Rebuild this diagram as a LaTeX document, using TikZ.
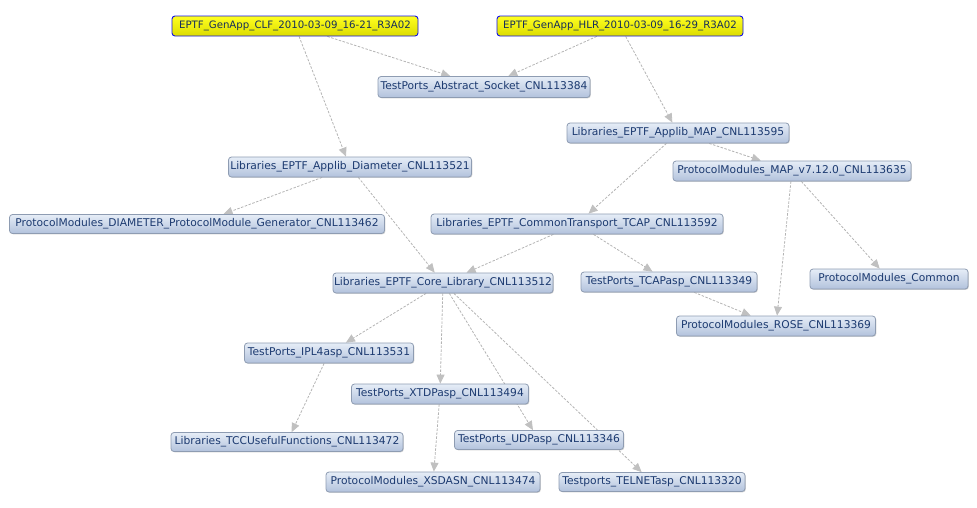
\documentclass[tikz,border=0pt]{standalone}
\usepackage{fontspec}
\setmainfont{DejaVu Sans}
\usetikzlibrary{arrows.meta,shadows,backgrounds}
\definecolor{bluetop}{HTML}{E6EDF7}
\definecolor{bluebot}{HTML}{B2C2DC}
\definecolor{blueborder}{HTML}{8E9CB2}
\definecolor{bluetext}{HTML}{1C3A70}
\definecolor{yeltop}{HTML}{FFFF20}
\definecolor{yelbot}{HTML}{DCDC00}
\definecolor{yelborder}{HTML}{1010E8}
\definecolor{edgegray}{HTML}{B4B4B4}
\definecolor{tipgray}{HTML}{C0C0C0}
\tikzset{
  pkg/.style={draw=blueborder, line width=0.8pt, rounded corners=3pt,
    top color=bluetop, bottom color=bluebot, text=bluetext,
    font=\fontsize{10.7}{12}\selectfont, inner sep=0pt, anchor=center,
    drop shadow={shadow xshift=0.8pt, shadow yshift=-0.8pt, fill=black!35, opacity=0.5}},
  rootpkg/.style={draw=yelborder, line width=0.9pt, rounded corners=3pt,
    top color=yeltop, bottom color=yelbot, text=bluetext!80!black,
    font=\fontsize{10.2}{12}\selectfont, inner sep=0pt, anchor=center},
  dep/.style={draw=edgegray, line width=0.8pt, dash pattern=on 2.5pt off 1.5pt,
    -{Triangle[length=9pt,width=8pt,fill=tipgray,color=tipgray]}}
}
\begin{document}
\begin{tikzpicture}[x=1pt,y=-1pt]
\useasboundingbox (0,0) rectangle (977,507);
\node[rootpkg, minimum width=246pt, minimum height=20pt] (clf) at (295,26) {EPTF\_GenApp\_CLF\_2010-03-09\_16-21\_R3A02};
\node[rootpkg, minimum width=246pt, minimum height=20pt] (hlr) at (620,26) {EPTF\_GenApp\_HLR\_2010-03-09\_16-29\_R3A02};
\node[pkg, minimum width=212pt, minimum height=21pt] (sock) at (484,87) {TestPorts\_Abstract\_Socket\_CNL113384};
\node[pkg, minimum width=222pt, minimum height=20pt] (map) at (678,133) {Libraries\_EPTF\_Applib\_MAP\_CNL113595};
\node[pkg, minimum width=243pt, minimum height=20pt] (diam) at (350,167) {Libraries\_EPTF\_Applib\_Diameter\_CNL113521};
\node[pkg, minimum width=238pt, minimum height=20pt] (mapv) at (792,171) {ProtocolModules\_MAP\_v7.12.0\_CNL113635};
\node[pkg, minimum width=375pt, minimum height=19pt] (gen) at (197,224) {ProtocolModules\_DIAMETER\_ProtocolModule\_Generator\_CNL113462};
\node[pkg, minimum width=292pt, minimum height=20pt] (tcap) at (577,224) {Libraries\_EPTF\_CommonTransport\_TCAP\_CNL113592};
\node[pkg, minimum width=220pt, minimum height=20pt] (core) at (443,283) {Libraries\_EPTF\_Core\_Library\_CNL113512};
\node[pkg, minimum width=176pt, minimum height=20pt] (tcapasp) at (669,282) {TestPorts\_TCAPasp\_CNL113349};
\node[pkg, minimum width=158pt, minimum height=20pt] (common) at (889,279) {ProtocolModules\_Common};
\node[pkg, minimum width=199pt, minimum height=20pt] (rose) at (776,326) {ProtocolModules\_ROSE\_CNL113369};
\node[pkg, minimum width=169pt, minimum height=20pt] (ipl) at (329,353) {TestPorts\_IPL4asp\_CNL113531};
\node[pkg, minimum width=177pt, minimum height=20pt] (xtdp) at (440,394) {TestPorts\_XTDPasp\_CNL113494};
\node[pkg, minimum width=232pt, minimum height=19pt] (tcc) at (287,442) {Libraries\_TCCUsefulFunctions\_CNL113472};
\node[pkg, minimum width=169pt, minimum height=19pt] (udp) at (539,440) {TestPorts\_UDPasp\_CNL113346};
\node[pkg, minimum width=214pt, minimum height=20pt] (xsd) at (433,482) {ProtocolModules\_XSDASN\_CNL113474};
\node[pkg, minimum width=186pt, minimum height=19pt] (telnet) at (652,482) {Testports\_TELNETasp\_CNL113320};
\begin{scope}[on background layer]
\draw[dep] (clf) -- (sock);
\draw[dep] (clf) -- (diam);
\draw[dep] (hlr) -- (sock);
\draw[dep] (hlr) -- (map);
\draw[dep] (map) -- (mapv);
\draw[dep] (map) -- (tcap);
\draw[dep] (diam) -- (gen);
\draw[dep] (diam) -- (core);
\draw[dep] (tcap) -- (core);
\draw[dep] (tcap) -- (tcapasp);
\draw[dep] (mapv) -- (rose);
\draw[dep] (mapv) -- (common);
\draw[dep] (tcapasp) -- (rose);
\draw[dep] (core) -- (ipl);
\draw[dep] (core) -- (xtdp);
\draw[dep] (core) -- (udp);
\draw[dep] (core) -- (telnet);
\draw[dep] (ipl) -- (tcc);
\draw[dep] (xtdp) -- (xsd);
\end{scope}
\end{tikzpicture}
\end{document}
